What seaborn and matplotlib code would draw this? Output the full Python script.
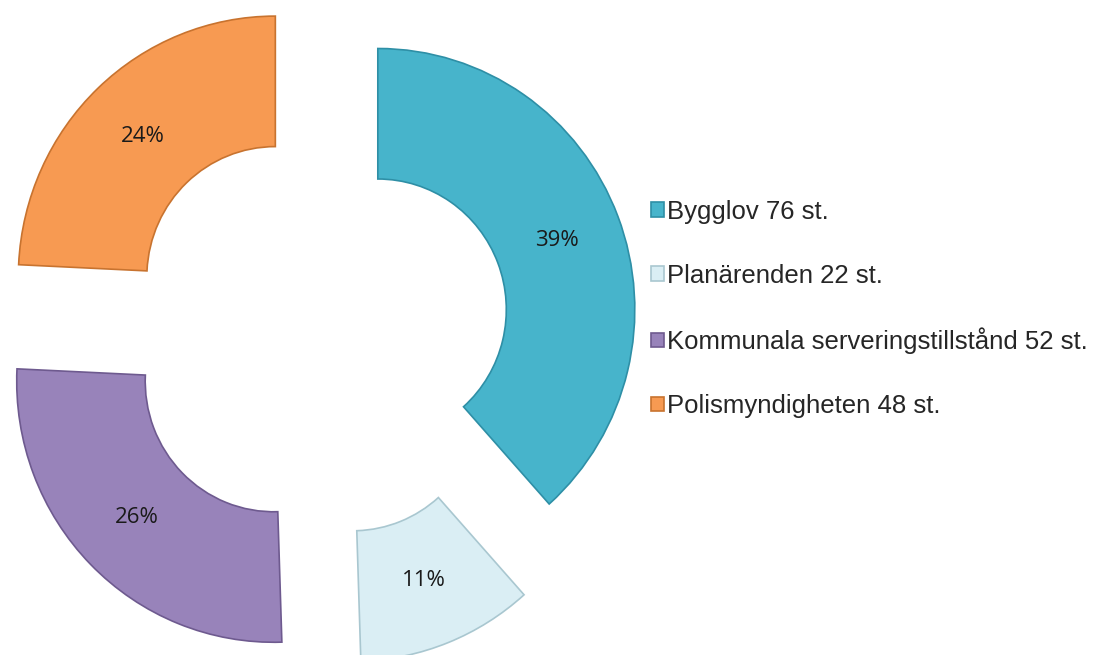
import matplotlib
matplotlib.use("Agg")
import matplotlib.pyplot as plt
import seaborn as sns
import numpy as np

categories = ["Bygglov", "Planärenden", "Kommunala serveringstillstånd", "Polismyndigheten"]
counts = [76, 22, 52, 48]
pct_labels = ["39%", "11%", "26%", "24%"]
legend_labels = ["Bygglov 76 st.", "Planärenden 22 st.", "Kommunala serveringstillstånd 52 st.", "Polismyndigheten 48 st."]
colors = ["#47B4CB", "#DAEEF4", "#9883BA", "#F79A52"]
edge_colors = ["#2E8FA6", "#A9C7D0", "#6E5A8F", "#C8732F"]
explode = [0.22, 0.29, 0.28, 0.28]

sns.set_theme(style="white")
plt.rcParams["font.family"] = ["Liberation Sans", "DejaVu Sans"]

fig = plt.figure(figsize=(11.04, 6.55), dpi=100)
ax = fig.add_axes([0, 0, 1, 1])

R_px_x = 257.0
R_px_y = 261.0
cx, cy = 325.0, 330.0

wedges, texts = ax.pie(
    counts,
    colors=colors,
    explode=explode,
    startangle=90,
    counterclock=False,
    radius=1.0,
    wedgeprops=dict(width=0.5, linewidth=1.2),
    frame=False,
)
for w, ec in zip(wedges, edge_colors):
    w.set_edgecolor(ec)

# percentage labels at the middle of each (exploded) ring segment
for w, lab, ex in zip(wedges, pct_labels, explode):
    ang = np.deg2rad((w.theta1 + w.theta2) / 2.0)
    r = 0.745 + ex
    ax.text(r * np.cos(ang), r * np.sin(ang), lab, ha="center", va="center",
            fontsize=16, color="#1a1a1a", family="Open Sans")

ax.set_aspect("auto")
ax.set_xlim(-cx / R_px_x, (1104 - cx) / R_px_x)
ax.set_ylim(-(655 - cy) / R_px_y, cy / R_px_y)
ax.axis("off")

leg = fig.legend(
    wedges, legend_labels,
    loc="center left",
    bbox_to_anchor=(628 / 1104, 1 - 309 / 655),
    frameon=False,
    fontsize=18.5,
    handlelength=0.5, handleheight=0.5,
    handletextpad=0.1,
    labelspacing=1.55,
)

fig.savefig("out.png", dpi=100)
